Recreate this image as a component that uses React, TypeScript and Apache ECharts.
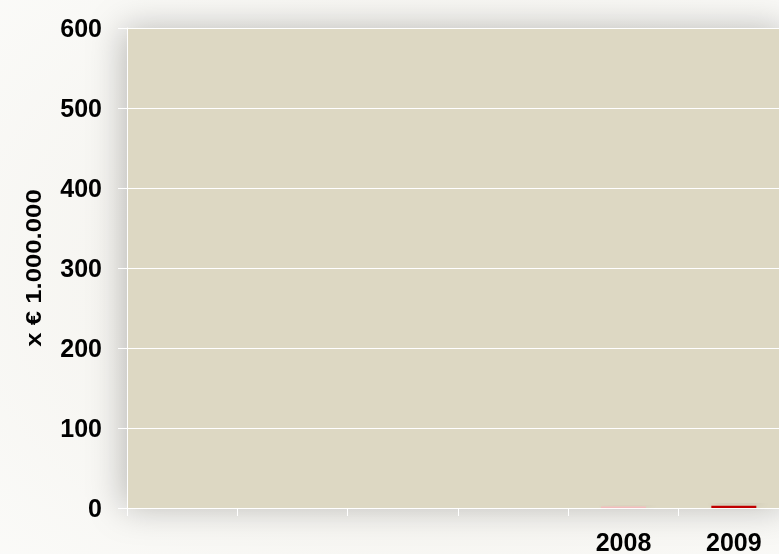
import React, { useEffect, useRef } from "react";
import * as echarts from "echarts";

const categories = ["", "", "", "", "2008", "2009"];
const values = [null, null, null, null, 1.8, 2.8];
const barColors = ["#c00000", "#c00000", "#c00000", "#c00000", "#f2bcbc", "#c00000"];
const yTicks = { min: 0, max: 600, interval: 100 };
const yTitle = "x € 1.000.000";

export default function App() {
  const ref = useRef<HTMLDivElement>(null);
  useEffect(() => {
    if (!ref.current) return;
    const chart = echarts.init(ref.current, null, { renderer: "svg" });
    chart.setOption({
      animation: false,
      backgroundColor: {
        type: "radial",
        x: 0.55,
        y: 0.5,
        r: 0.8,
        colorStops: [
          { offset: 0, color: "#f1efe9" },
          { offset: 1, color: "#fbfbf9" },
        ],
      },
      textStyle: { fontFamily: "Arial, 'Liberation Sans', sans-serif" },
      grid: {
        left: 127,
        top: 28,
        width: 662,
        bottom: 44,
        show: true,
        backgroundColor: "#ddd8c3",
        borderWidth: 0,
        shadowBlur: 34,
        shadowColor: "rgba(0,0,0,0.25)",
        shadowOffsetX: -4,
        shadowOffsetY: 0,
      },
      graphic: [
        {
          type: "text",
          x: 33,
          y: 268,
          rotation: Math.PI / 2,
          style: {
            text: yTitle,
            fill: "#000",
            font: "bold 22px Arial, 'Liberation Sans', sans-serif",
            align: "center",
            verticalAlign: "middle",
          },
          scaleX: 1.17,
        },
      ],
      xAxis: {
        type: "category",
        data: categories,
        axisLine: { show: true, lineStyle: { color: "#ffffff", width: 1 } },
        axisTick: { show: true, length: 8, lineStyle: { color: "#ffffff" } },
        axisLabel: {
          color: "#000",
          fontWeight: "bold",
          fontSize: 25,
          margin: 21,
        },
        splitLine: { show: false },
      },
      yAxis: {
        type: "value",
        min: yTicks.min,
        max: yTicks.max,
        interval: yTicks.interval,
        axisLine: { show: true, lineStyle: { color: "#ffffff", width: 1 } },
        axisTick: { show: true, length: 9, lineStyle: { color: "#ffffff" } },
        axisLabel: {
          color: "#000",
          fontWeight: "bold",
          fontSize: 25,
          margin: 25,
        },
        splitLine: { show: true, lineStyle: { color: "#ffffff", width: 1 } },
      },
      series: [
        {
          type: "bar",
          z: 5,
          data: values.map((v, i) => ({
            value: v,
            itemStyle: {
              color: barColors[i],
              shadowBlur: 8,
              shadowColor: "rgba(0,0,0,0.25)",
              shadowOffsetX: 4,
              shadowOffsetY: -6,
            },
          })),
          barWidth: 45,
        },
      ],
    });
    return () => chart.dispose();
  }, []);
  return (
    <div
      style={{
        position: "fixed",
        left: 0,
        top: 0,
        width: 779,
        height: 554,
        overflow: "hidden",
      }}
    >
      <div ref={ref} style={{ width: 800, height: 554 }} />
    </div>
  );
}
